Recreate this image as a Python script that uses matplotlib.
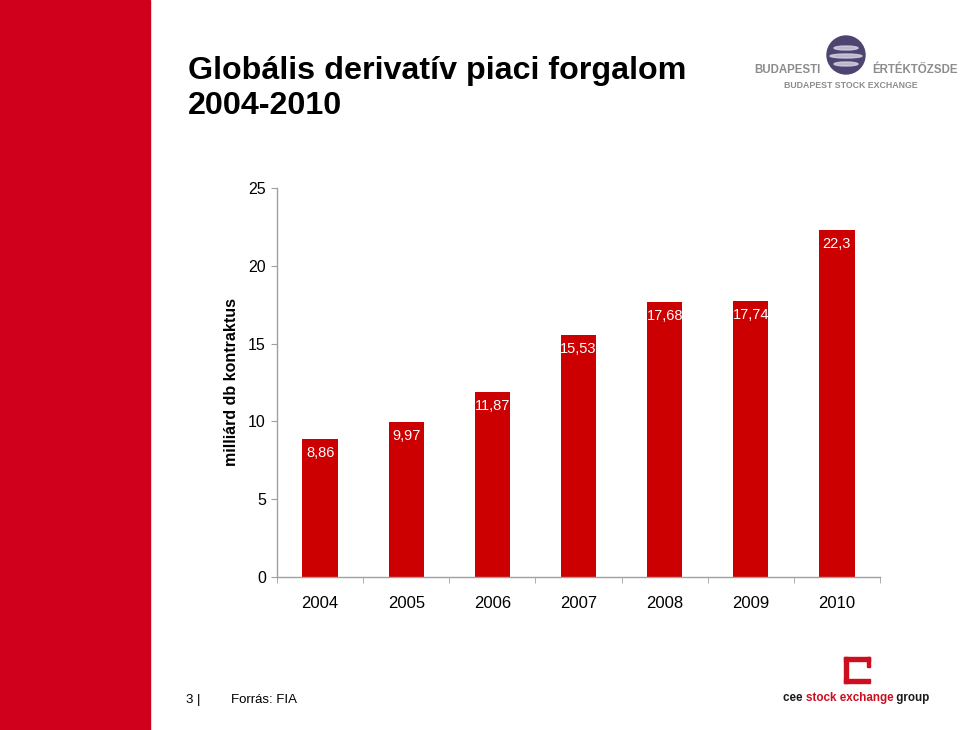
import matplotlib
matplotlib.use("Agg")
from matplotlib import pyplot as plt
from matplotlib.patches import Rectangle, Ellipse

years = ["2004", "2005", "2006", "2007", "2008", "2009", "2010"]
volumes = [8.86, 9.97, 11.87, 15.53, 17.68, 17.74, 22.3]
value_labels = ["8,86", "9,97", "11,87", "15,53", "17,68", "17,74", "22,3"]
y_ticks = [0, 5, 10, 15, 20, 25]

plt.rcParams["font.family"] = ["Liberation Sans", "DejaVu Sans"]

fig = plt.figure(figsize=(9.6, 7.3), dpi=100)
W, H = 960, 730


def fx(px):
    return px / W


def fy(py):
    return 1 - py / H


# red band on the left of the slide
fig.patches.append(Rectangle((0, 0), fx(150), 1, transform=fig.transFigure,
                             color="#d0001c", zorder=0))

# title
fig.text(fx(188), fy(79), "Globális derivatív piaci forgalom", fontsize=23.2,
         fontweight="bold", ha="left", va="baseline")
fig.text(fx(188), fy(114), "2004-2010", fontsize=23.2, fontweight="bold",
         ha="left", va="baseline")

# chart
ax_l, ax_r, ax_t, ax_b = 277, 880, 188, 577
ax = fig.add_axes([fx(ax_l), fy(ax_b), fx(ax_r) - fx(ax_l), fy(ax_t) - fy(ax_b)])
x = list(range(len(years)))
ax.bar(x, volumes, width=0.41, color="#cc0000", zorder=2)
for xi, v, lab in zip(x, volumes, value_labels):
    ax.annotate(lab, (xi, v), xytext=(0, -5), textcoords="offset points",
                ha="center", va="top", color="white", fontsize=10.5, zorder=3)

ax.set_xlim(-0.5, 6.5)
ax.set_ylim(0, 25)
ax.set_yticks(y_ticks)
ax.set_yticklabels([str(t) for t in y_ticks], fontsize=11.5)
ax.set_xticks(x)
ax.set_xticklabels(years, fontsize=12)
ax.set_xticks([i + 0.5 for i in range(-1, len(years))], minor=True)
ax.tick_params(axis="x", which="major", length=0, pad=14)
ax.tick_params(axis="x", which="minor", length=4, color="#a0a0a0", direction="out")
ax.tick_params(axis="y", length=4, color="#a0a0a0", direction="out", pad=4)
for side in ["top", "right"]:
    ax.spines[side].set_visible(False)
for side in ["left", "bottom"]:
    ax.spines[side].set_color("#a0a0a0")
    ax.spines[side].set_linewidth(1)
ax.set_ylabel("milliárd db kontraktus", fontsize=11.5, fontweight="bold")
ax.yaxis.set_label_coords((239 - ax_l) / (ax_r - ax_l),
                          (ax_b - 382) / (ax_b - ax_t))

# footer
fig.text(fx(186), fy(700), "3 |", fontsize=9.5, va="center", ha="left")
fig.text(fx(231), fy(700), "Forrás: FIA", fontsize=9.5, va="center", ha="left")

# Budapest stock exchange logo
grey = "#8c8c8c"
fig.text(fx(754), fy(70), "BUDAPESTI", fontsize=8.3, fontweight="bold",
         color=grey, va="center", ha="left")
fig.text(fx(872), fy(70), "ÉRTÉKTŐZSDE", fontsize=8.3, fontweight="bold",
         color=grey, va="center", ha="left")
fig.text(fx(851), fy(85), "BUDAPEST STOCK EXCHANGE", fontsize=6.3,
         fontweight="bold", color=grey, va="center", ha="center")
fig.patches.append(Ellipse((fx(846), fy(55)), fx(38), 38 / H,
                           transform=fig.transFigure, color="#4d4470", zorder=2))
for dy, w in [(-7, 24), (1, 32), (9, 24)]:
    fig.patches.append(Ellipse((fx(846), fy(55 + dy)), fx(w), 4 / H,
                               transform=fig.transFigure, color="#d8d4e4",
                               zorder=3, alpha=0.8))

# cee stock exchange group logo
red = "#cc0e1e"
lw = 4
x0, y0, s = 844, 657, 26
fig.patches.append(Rectangle((fx(x0), fy(y0 + s)), fx(lw), s / H,
                             transform=fig.transFigure, color=red))
fig.patches.append(Rectangle((fx(x0), fy(y0 + lw)), fx(s), lw / H,
                             transform=fig.transFigure, color=red))
fig.patches.append(Rectangle((fx(x0), fy(y0 + s)), fx(s), lw / H,
                             transform=fig.transFigure, color=red))
fig.patches.append(Rectangle((fx(x0 + s - 3), fy(y0 + 10)), fx(3), 10 / H,
                             transform=fig.transFigure, color=red))

renderer = fig.canvas.get_renderer()
cur = 783
for part, col in [("cee ", "#1a1a1a"), ("stock exchange", red), (" group", "#1a1a1a")]:
    t = fig.text(fx(cur), fy(698), part, fontsize=8.4, fontweight="bold",
                 color=col, va="center", ha="left")
    cur += t.get_window_extent(renderer).width

fig.savefig("out.png", dpi=100)
